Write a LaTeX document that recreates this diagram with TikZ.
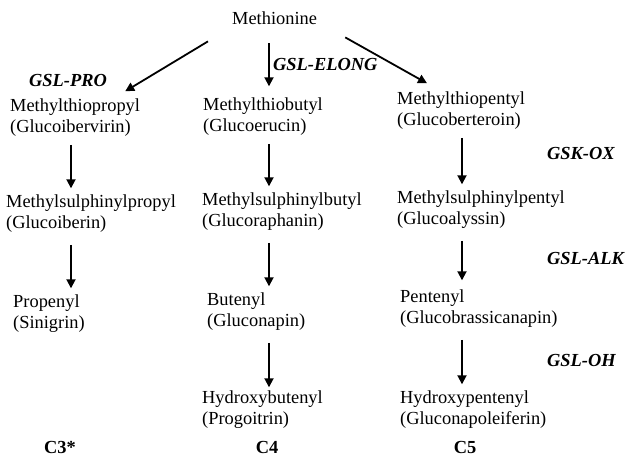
\documentclass[tikz,border=0pt]{standalone}
\usepackage{fontspec}
\setmainfont{Liberation Serif}
\usetikzlibrary{arrows.meta}

\begin{document}
\begin{tikzpicture}[x=1pt,y=-1pt,
    txt/.style={inner sep=0pt,font=\fontsize{18.4}{21.5}\selectfont},
    cmpd/.style={txt,anchor=north west,align=left},
    gene/.style={txt,anchor=base west,font=\fontsize{18.4}{21.5}\selectfont\bfseries\itshape},
    chain/.style={txt,anchor=base,font=\fontsize{18.4}{21.5}\selectfont\bfseries},
    arr/.style={line width=1.8pt,-{Triangle[length=9pt,width=9pt]},shorten <=12pt,shorten >=6pt}]

    \useasboundingbox (0,0) rectangle (625,457);

    % start and enzymes
    \node[txt,anchor=base west] (met) at (232,25) {Methionine};
    \node[gene] (pro) at (29,87) {GSL-PRO};
    \node[gene] (elong) at (273,71) {GSL-ELONG};
    \node[gene] (ox) at (547,160) {GSK-OX};
    \node[gene] (alk) at (547,265) {GSL-ALK};
    \node[gene] (oh) at (547,367) {GSL-OH};

    % C3 column
    \node[cmpd] (a1) at (10,98.3) {Methylthiopropyl\\(Glucoibervirin)};
    \node[cmpd] (a2) at (6,194.3) {Methylsulphinylpropyl\\(Glucoiberin)};
    \node[cmpd] (a3) at (13,294.3) {Propenyl\\(Sinigrin)};

    % C4 column
    \node[cmpd] (b1) at (203,97.3) {Methylthiobutyl\\(Glucoerucin)};
    \node[cmpd] (b2) at (202,192.3) {Methylsulphinylbutyl\\(Glucoraphanin)};
    \node[cmpd] (b3) at (207,292.3) {Butenyl\\(Gluconapin)};
    \node[cmpd] (b4) at (202,390.3) {Hydroxybutenyl\\(Progoitrin)};

    % C5 column
    \node[cmpd] (c1) at (397,91.3) {Methylthiopentyl\\(Glucoberteroin)};
    \node[cmpd] (c2) at (397,190.3) {Methylsulphinylpentyl\\(Glucoalyssin)};
    \node[cmpd] (c3) at (400,289.3) {Pentenyl\\(Glucobrassicanapin)};
    \node[cmpd] (c4) at (400,390.3) {Hydroxypentenyl\\(Gluconapoleiferin)};

    \node[chain] (k3) at (60,454) {C3*};
    \node[chain] (k4) at (267,454) {C4};
    \node[chain] (k5) at (465,454) {C5};

    \coordinate (colA) at (71,0);
    \coordinate (colB) at (269,0);
    \coordinate (colC) at (462,0);

    \draw[arr,shorten <=0pt,shorten >=0pt] ([xshift=-24pt,yshift=-16pt]met.south west) -- ([xshift=-15pt,yshift=7pt]a1.north east);
    \draw[arr,shorten <=18pt,shorten >=11pt] (met.south -| colB) -- (b1.north -| colB);
    \draw[arr,shorten <=0pt,shorten >=0pt] ([xshift=28pt,yshift=-12pt]met.south east) -- ([xshift=30pt,yshift=8pt]c1.north west);

    \draw[arr,shorten <=8pt] (a1.south -| colA) -- (a2.north -| colA);
    \draw[arr] (a2.south -| colA) -- (a3.north -| colA);
    \draw[arr,shorten <=8pt] (b1.south -| colB) -- (b2.north -| colB);
    \draw[arr] (b2.south -| colB) -- (b3.north -| colB);
    \draw[arr,shorten >=3pt] (b3.south -| colB) -- (b4.north -| colB);
    \draw[arr,shorten <=8pt] (c1.south -| colC) -- (c2.north -| colC);
    \draw[arr,shorten >=9pt] (c2.south -| colC) -- (c3.north -| colC);
    \draw[arr] (c3.south -| colC) -- (c4.north -| colC);

\end{tikzpicture}
\end{document}
